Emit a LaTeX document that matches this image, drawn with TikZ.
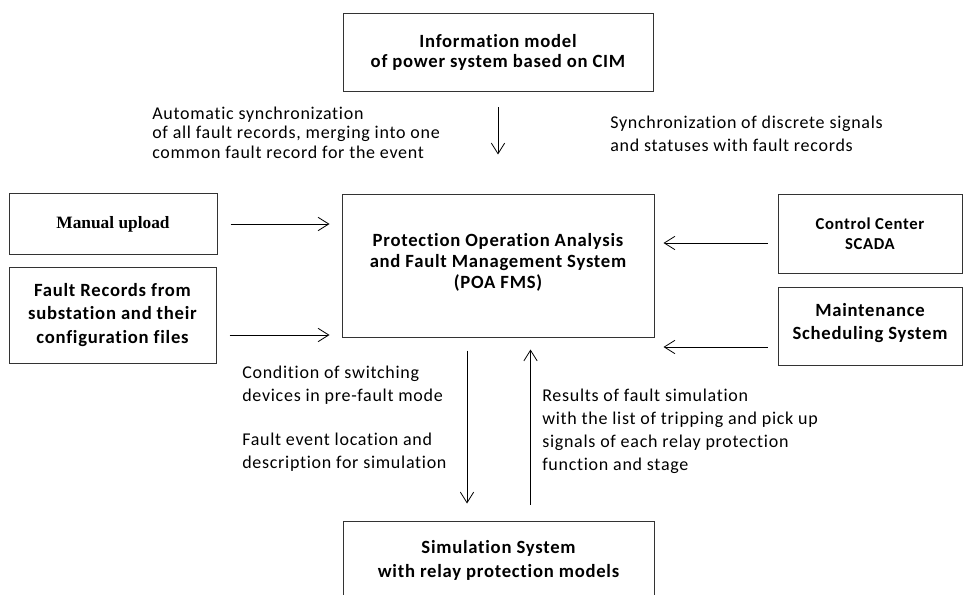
\documentclass[tikz,border=0pt]{standalone}
\usepackage{fontspec}
\setmainfont{Carlito}[Ligatures=CommonOff]
\newfontfamily\lblfont{Carlito}[Ligatures=CommonOff, LetterSpace=4]
\newfontfamily\boxfont{Carlito}[Ligatures=CommonOff, LetterSpace=4, BoldFont={Carlito Bold}]
\newfontfamily\serifbold{Liberation Serif}
\usetikzlibrary{arrows.meta}

\begin{document}
\begin{tikzpicture}[x=0.75pt,y=0.75pt,yscale=-1,xscale=1,
    box/.style={draw=black!80, line width=0.75pt, inner sep=0pt, align=center,
        font=\boxfont\fontsize{14}{17}\selectfont\bfseries},
    flow/.style={-{Straight Barb[length=8pt,width=10pt]}, line width=0.6pt},
    lbl/.style={anchor=west, inner sep=0pt, align=left,
        font=\lblfont\fontsize{13.5}{17.25}\selectfont}]
    \clip (0,0) rectangle (966,595);

    %Boxes
    \node[box, minimum width=232.5pt, minimum height=59pt, font=\boxfont\fontsize{14}{15}\selectfont\bfseries] (cim) at (498,52.5) {Information model\\of power system based on CIM};
    \node[box, minimum width=234pt, minimum height=106.5pt, font=\boxfont\fontsize{14}{15.75}\selectfont\bfseries] (main) at (498,266) {Protection Operation Analysis\\and Fault Management System\\(POA FMS)\\[-8.25pt]};
    \node[box, minimum width=156pt, minimum height=45pt, font=\serifbold\fontsize{13}{15}\selectfont\bfseries] (manual) at (113,224) {Manual upload};
    \node[box, minimum width=155.25pt, minimum height=72pt, font=\boxfont\fontsize{14}{17.5}\selectfont\bfseries] (fault) at (112.5,315) {Fault Records from\\substation and their\\configuration files};
    \node[box, minimum width=138pt, minimum height=58.5pt, font=\boxfont\fontsize{12.5}{15}\selectfont\bfseries] (scada) at (870,234) {Control Center\\SCADA};
    \node[box, minimum width=138pt, minimum height=58.5pt] (maint) at (870,326) {Maintenance\\Scheduling System\\[-10.25pt]};
    \node[box, minimum width=233.25pt, minimum height=58.5pt, font=\boxfont\fontsize{14}{18}\selectfont\bfseries] (sim) at (498.5,560) {Simulation System\\with relay protection models};

    %Arrows
    \draw[flow, shorten <=9.75pt, shorten >=9pt] (manual.east) -- (manual.east -| main.west);
    \draw[flow, shorten <=9.75pt, shorten >=9pt] ([yshift=15pt]fault.east) -- ([yshift=15pt]fault.east -| main.west);
    \draw[flow, shorten <=7.5pt, shorten >=6.75pt] ([yshift=6.75pt]scada.west) -- ([yshift=6.75pt]scada.west -| main.east);
    \draw[flow, shorten <=7.5pt, shorten >=6.75pt] ([yshift=15.75pt]maint.west) -- ([yshift=15.75pt]maint.west -| main.east);
    \draw[flow, shorten <=11.25pt, shorten >=30pt] (cim.south) -- (main.north);
    \draw[flow, shorten <=9.75pt, shorten >=12.75pt] ([xshift=-23.25pt]main.south) -- ([xshift=-23.25pt]main.south |- sim.north);
    \draw[flow, shorten <=12pt, shorten >=9pt] ([xshift=24pt]sim.north) -- ([xshift=24pt]sim.north |- main.south);

    %Labels
    \node[lbl, font=\lblfont\fontsize{13.5}{14.6}\selectfont] (autosync) at (152,132.5) {Automatic synchronization\\of all fault records, merging into one\\common fault record for the event};
    \node[lbl] (syncdisc) at (610,133.5) {Synchronization of discrete signals\\and statuses with fault records};
    \node[lbl] (condsw) at (242,385) {Condition of switching\\devices in pre-fault mode};
    \node[lbl] (faultev) at (242,452.5) {Fault event location and\\description for simulation};
    \node[lbl] (results) at (542,431.5) {Results of fault simulation\\with the list of tripping and pick up\\signals of each relay protection\\function and stage};

\end{tikzpicture}
\end{document}
